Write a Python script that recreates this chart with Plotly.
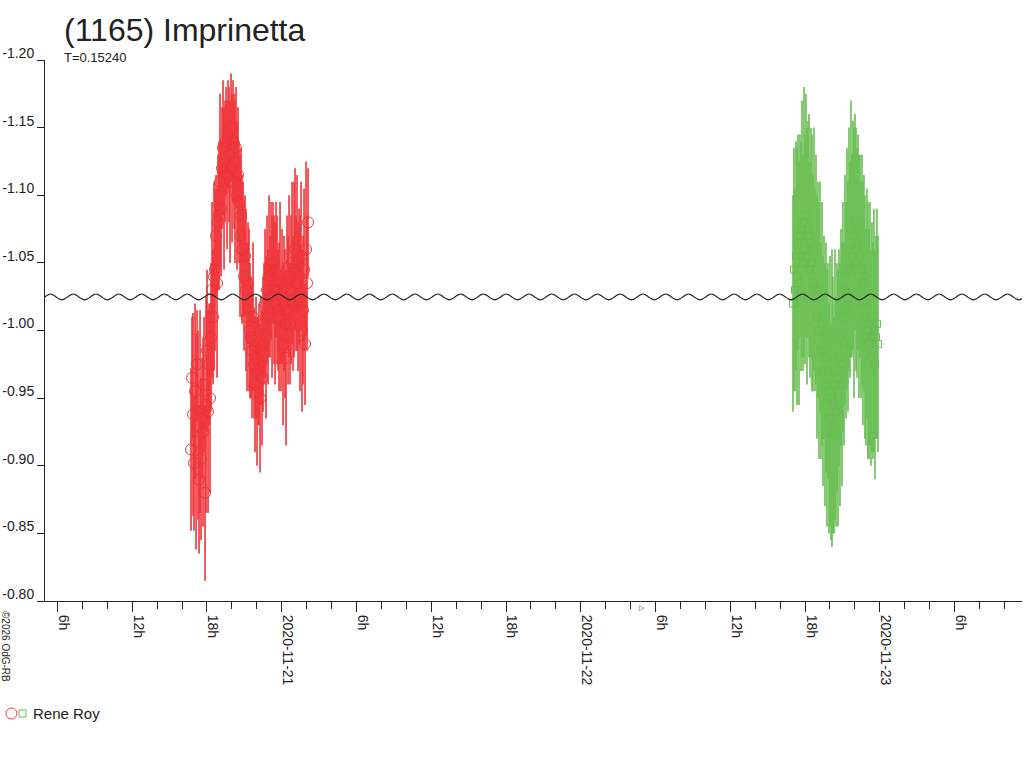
import numpy as np
import plotly.graph_objects as go

# hours counted from 2020-11-20 00:00 UT
period_days = 0.15240
period_h = period_days * 24

# Rene Roy, night 1 (red circles)
red_start, red_end = 16.72, 26.11
red_mag = [
    -0.912, -0.965, -0.938, -0.902,
    -0.955, -0.918, -0.975, -0.930,
    -0.890, -0.940, -0.905, -0.935,
    -0.925, -0.960, -0.880, -0.945,
    -0.985, -0.940, -0.975, -0.950,
    -0.995, -1.030, -1.010, -1.040,
    -1.045, -1.070, -1.035, -1.080,
    -1.085, -1.110, -1.090, -1.120,
    -1.135, -1.105, -1.125, -1.140,
    -1.115, -1.145, -1.130, -1.110,
    -1.150, -1.120, -1.140, -1.125,
    -1.110, -1.135, -1.100, -1.115,
    -1.095, -1.070, -1.085, -1.060,
    -1.060, -1.040, -1.055, -1.030,
    -1.010, -1.035, -1.015, -1.000,
    -0.995, -0.985, -1.010, -0.975,
    -0.960, -0.980, -0.955, -0.970,
    -0.975, -0.950, -0.985, -0.965,
    -0.990, -1.005, -1.020, -0.995,
    -1.030, -1.010, -1.040, -1.025,
    -1.045, -1.025, -1.050, -1.030,
    -1.020, -1.045, -1.030, -1.015,
    -1.010, -1.035, -1.000, -1.025,
    -0.990, -1.020, -1.005, -0.980,
    -1.035, -1.015, -1.040, -1.005,
    -1.030, -1.050, -1.020, -1.045,
    -1.060, -1.035, -1.050, -1.025,
    -1.040, -1.020, -1.055, -1.000,
    -1.015, -1.045, -0.990, -1.060,
    -1.035, -1.080,
]
red_err = [
    0.060, 0.045, 0.075, 0.050,
    0.065, 0.080, 0.040, 0.070,
    0.055, 0.075, 0.060, 0.045,
    0.070, 0.050, 0.065, 0.080,
    0.060, 0.075, 0.045, 0.070,
    0.055, 0.065, 0.050, 0.070,
    0.060, 0.045, 0.070, 0.050,
    0.055, 0.065, 0.050, 0.045,
    0.050, 0.060, 0.045, 0.040,
    0.055, 0.040, 0.050, 0.060,
    0.040, 0.055, 0.045, 0.050,
    0.060, 0.045, 0.055, 0.050,
    0.045, 0.060, 0.050, 0.055,
    0.050, 0.055, 0.045, 0.060,
    0.055, 0.045, 0.060, 0.050,
    0.045, 0.050, 0.055, 0.040,
    0.050, 0.045, 0.055, 0.040,
    0.045, 0.055, 0.040, 0.050,
    0.050, 0.045, 0.055, 0.060,
    0.055, 0.050, 0.060, 0.045,
    0.050, 0.060, 0.045, 0.055,
    0.060, 0.050, 0.055, 0.045,
    0.055, 0.060, 0.045, 0.050,
    0.060, 0.050, 0.055, 0.065,
    0.050, 0.055, 0.060, 0.045,
    0.055, 0.060, 0.050, 0.065,
    0.060, 0.050, 0.065, 0.055,
    0.050, 0.065, 0.055, 0.060,
    0.055, 0.060, 0.045, 0.065,
    0.050, 0.040,
]

# Rene Roy, night 3 (green squares)
green_start, green_end = 65.03, 71.85
green_mag = [
    -1.020, -1.045, -1.030, -1.055,
    -1.040, -1.065, -1.035, -1.070,
    -1.055, -1.075, -1.050, -1.080,
    -1.060, -1.085, -1.055, -1.075,
    -1.070, -1.045, -1.065, -1.050,
    -1.035, -1.060, -1.030, -1.045,
    -1.010, -1.030, -1.000, -1.025,
    -0.985, -1.005, -0.970, -0.995,
    -0.960, -0.980, -0.950, -0.970,
    -0.935, -0.955, -0.925, -0.950,
    -0.945, -0.930, -0.960, -0.940,
    -0.965, -0.950, -0.980, -0.960,
    -0.995, -0.975, -1.010, -0.990,
    -1.030, -1.015, -1.045, -1.025,
    -1.060, -1.045, -1.075, -1.055,
    -1.070, -1.050, -1.080, -1.060,
    -1.050, -1.065, -1.040, -1.055,
    -1.030, -1.045, -1.020, -1.035,
    -1.010, -0.995, -1.020, -1.000,
    -0.990, -1.005, -0.980, -0.995,
    -0.985, -1.000, -0.975, -0.995,
    -1.005, -0.990,
]
green_err = [
    0.080, 0.090, 0.075, 0.085,
    0.095, 0.080, 0.090, 0.075,
    0.085, 0.095, 0.080, 0.100,
    0.085, 0.090, 0.095, 0.080,
    0.090, 0.080, 0.085, 0.095,
    0.080, 0.090, 0.075, 0.085,
    0.090, 0.080, 0.095, 0.085,
    0.080, 0.090, 0.085, 0.075,
    0.090, 0.085, 0.095, 0.080,
    0.085, 0.100, 0.080, 0.110,
    0.095, 0.080, 0.100, 0.085,
    0.085, 0.095, 0.080, 0.090,
    0.080, 0.090, 0.085, 0.075,
    0.085, 0.080, 0.090, 0.085,
    0.090, 0.080, 0.095, 0.075,
    0.085, 0.100, 0.080, 0.090,
    0.085, 0.080, 0.090, 0.075,
    0.080, 0.085, 0.090, 0.080,
    0.090, 0.080, 0.085, 0.095,
    0.085, 0.090, 0.080, 0.085,
    0.080, 0.090, 0.085, 0.075,
    0.085, 0.080,
]

# fitted light curve, one full period starting at a maximum
model_epoch = 18.24
model_phase_mag = [-1.0270, -1.0262, -1.0248, -1.0234, -1.0226, -1.0234, -1.0248, -1.0262,
                   -1.0270, -1.0262, -1.0248, -1.0234, -1.0226, -1.0234, -1.0248, -1.0262]

x_range = [5.0, 83.41]
tick_hours = [6, 12, 18, 24, 30, 36, 42, 48, 54, 60, 66, 72, 78]
tick_text = ["6h", "12h", "18h", "2020-11-21", "6h", "12h", "18h", "2020-11-22",
             "6h", "12h", "18h", "2020-11-23", "6h"]
mag_ticks = [-1.20, -1.15, -1.10, -1.05, -1.00, -0.95, -0.90, -0.85, -0.80]
mag_tick_text = ["-1.20", "-1.15", "-1.10", "-1.05", "-1.00", "-0.95", "-0.90", "-0.85", "-0.80"]

RED = "#ee3338"
GREEN = "#68bd51"
INK = "#222222"

red_t = np.linspace(red_start, red_end, len(red_mag))
green_t = np.linspace(green_start, green_end, len(green_mag))

n_cycles = 24
model_t = model_epoch - 4 * period_h + np.arange(n_cycles * 16 + 1) * period_h / 16
model_mag = [model_phase_mag[i % 16] for i in range(len(model_t))]

fig = go.Figure()

fig.add_trace(go.Scatter(
    x=red_t, y=red_mag, mode="markers", name="Rene Roy",
    marker=dict(symbol="circle-open", size=11, color=RED, line=dict(width=1)),
    error_y=dict(type="data", array=red_err, color=RED, thickness=1.6, width=0),
    showlegend=False,
))
fig.add_trace(go.Scatter(
    x=green_t, y=green_mag, mode="markers", name="Rene Roy",
    marker=dict(symbol="square-open", size=7, color=GREEN, line=dict(width=1)),
    error_y=dict(type="data", array=green_err, color=GREEN, thickness=1.6, width=0),
    showlegend=False,
))
fig.add_trace(go.Scatter(
    x=model_t, y=model_mag, mode="lines", line=dict(color=INK, width=1.2, shape="spline"),
    showlegend=False, hoverinfo="skip",
))

# plot area is 977 x 541 px, starting at (45, 60)
def px(x):
    return (x - 45) / 977

def py(y):
    return (601 - y) / 541

annotations = [
    dict(text="(1165) Imprinetta", x=px(62), y=py(10), xanchor="left", yanchor="top",
         font=dict(size=32, color=INK)),
    dict(text="T=0.15240", x=px(62), y=py(58), xanchor="left", yanchor="middle",
         font=dict(size=13, color=INK)),
    dict(text="Rene Roy", x=px(31), y=py(713), xanchor="left", yanchor="middle",
         font=dict(size=15, color=INK)),
    dict(text="©2026 OdG-RB", x=px(6), y=py(646), xanchor="center", yanchor="middle",
         textangle=90, font=dict(size=10, color=INK)),
    dict(text="▷", x=52.89, xref="x", y=py(607), xanchor="center", yanchor="middle",
         font=dict(size=7, color=INK)),
]
for a in annotations:
    a.setdefault("xref", "paper")
    a["yref"] = "paper"
    a["showarrow"] = False

shapes = [
    dict(type="circle", xref="paper", yref="paper", x0=px(6), x1=px(17), y0=py(719), y1=py(708),
         line=dict(color=RED, width=1)),
    dict(type="rect", xref="paper", yref="paper", x0=px(19), x1=px(26), y0=py(717), y1=py(710),
         line=dict(color=GREEN, width=1)),
]

fig.update_layout(
    width=1024, height=768,
    margin=dict(l=45, r=2, t=60, b=167),
    paper_bgcolor="white", plot_bgcolor="white",
    font=dict(family="Liberation Sans, Arial, sans-serif", size=13, color=INK),
    annotations=annotations, shapes=shapes,
    showlegend=False,
)
fig.update_xaxes(
    range=x_range, showgrid=False, zeroline=False, automargin=False,
    showline=True, linecolor=INK, linewidth=1,
    tickmode="array", tickvals=tick_hours, ticktext=tick_text, tickangle=90,
    ticks="outside", ticklen=10, tickcolor=INK, tickfont=dict(size=14, color=INK),
    ticklabelshift=6,
    minor=dict(dtick=2, ticks="outside", ticklen=7, tickcolor=INK, showgrid=False),
)
fig.update_yaxes(
    range=[-0.80, -1.20], showgrid=False, zeroline=False, automargin=False,
    showline=True, linecolor=INK, linewidth=1,
    tickmode="array", tickvals=mag_ticks, ticktext=mag_tick_text,
    ticks="outside", ticklen=7, tickcolor=INK,
    tickfont=dict(size=14, color=INK), ticklabelshift=7, ticklabelstandoff=0,
)

fig.write_html("out.html", config={"displayModeBar": False},
               post_script="document.body.style.margin='0';document.body.style.overflow='hidden';")
